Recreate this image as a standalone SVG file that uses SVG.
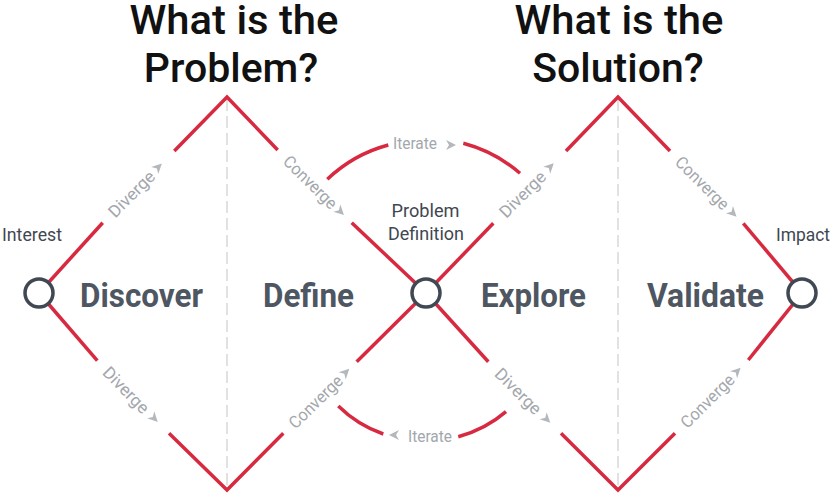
<svg xmlns="http://www.w3.org/2000/svg" xmlns:xlink="http://www.w3.org/1999/xlink" width="833" height="500" viewBox="0 0 833 500">
  <style>
    .edge { fill: none; stroke: #d72a41; stroke-width: 3.5; stroke-linejoin: miter; stroke-linecap: butt; }
    .axis { stroke: #c4c4c4; stroke-width: 1; stroke-dasharray: 12 5; }
    .node { fill: #ffffff; stroke: #3f4853; stroke-width: 3.5; }
    .title { font-family: Roboto, "Liberation Sans", sans-serif; font-weight: 500; font-size: 41px; fill: #111111; text-anchor: middle; }
    .stage { font-family: Roboto, "Liberation Sans", sans-serif; font-weight: 700; font-size: 33px; fill: #4d5661; }
    .lbl { font-family: Roboto, "Liberation Sans", sans-serif; font-size: 19px; fill: #3f4751; }
    .tag { font-family: Roboto, "Liberation Sans", sans-serif; font-size: 17px; fill: #a3a7ac; }
    .ah { fill: #b4b8bc; }
  </style>
  <defs>
    <path id="ah" d="M0,0 L-10,-5 L-7,0 L-10,5 Z"/>
  </defs>

  <rect width="833" height="500" fill="#ffffff"/>

  <g id="titles">
    <text class="title" x="234" y="34" textLength="209" lengthAdjust="spacingAndGlyphs">What is the</text>
    <text class="title" x="231" y="82">Problem?</text>
    <text class="title" x="619" y="34" textLength="209" lengthAdjust="spacingAndGlyphs">What is the</text>
    <text class="title" x="618" y="82">Solution?</text>
  </g>

  <g id="axes">
    <line class="axis" x1="227" y1="99" x2="227" y2="490"/>
    <line class="axis" x1="618" y1="99" x2="618" y2="490"/>
  </g>

  <g id="connectors">
    <!-- Diamond 1 -->
    <line class="edge" x1="39" y1="293" x2="102.7" y2="222.7"/>
    <polyline class="edge" points="174.3,151 227,97 277.7,150"/>
    <line class="edge" x1="351.7" y1="222.7" x2="426" y2="293"/>
    <line class="edge" x1="39" y1="293" x2="97.3" y2="360.7"/>
    <polyline class="edge" points="169,433.3 227,490 283.3,433.3"/>
    <line class="edge" x1="356.7" y1="361.7" x2="426" y2="293"/>
    <!-- Diamond 2 -->
    <line class="edge" x1="426" y1="293" x2="493.3" y2="223.3"/>
    <polyline class="edge" points="566,151 618,97 670,151"/>
    <line class="edge" x1="743.3" y1="223.3" x2="802" y2="293"/>
    <line class="edge" x1="426" y1="293" x2="488.3" y2="361.7"/>
    <polyline class="edge" points="561,433.3 618,490 675,433.3"/>
    <line class="edge" x1="748.3" y1="360" x2="802" y2="293"/>
    <!-- Iterate arcs -->
    <path class="edge" d="M327.3,179.3 A141,141 0 0,1 388.3,145"/>
    <path class="edge" d="M463.3,143.3 A141,141 0 0,1 520,173.3"/>
    <path class="edge" d="M338.3,406 A120,120 0 0,0 383.3,434"/>
    <path class="edge" d="M458.3,436.7 A120,120 0 0,0 506,411.7"/>

    <!-- Edge labels -->
    <g transform="translate(138.5,186.85) rotate(-45)">
      <text class="tag" x="19" y="6" text-anchor="end" textLength="58" lengthAdjust="spacingAndGlyphs">Diverge</text>
      <use href="#ah" class="ah" transform="translate(33,0)"/>
    </g>
    <g transform="translate(314.7,186.35) rotate(44.5)">
      <text class="tag" x="28" y="6" text-anchor="end" textLength="68" lengthAdjust="spacingAndGlyphs">Converge</text>
      <use href="#ah" class="ah" transform="translate(41,0)"/>
    </g>
    <g transform="translate(133.15,397) rotate(45.4)">
      <text class="tag" x="19" y="6" text-anchor="end" textLength="58" lengthAdjust="spacingAndGlyphs">Diverge</text>
      <use href="#ah" class="ah" transform="translate(35,0)"/>
    </g>
    <g transform="translate(320,397.5) rotate(-44.3)">
      <text class="tag" x="28" y="6" text-anchor="end" textLength="68" lengthAdjust="spacingAndGlyphs">Converge</text>
      <use href="#ah" class="ah" transform="translate(41,0)"/>
    </g>
    <g transform="translate(529.65,187.15) rotate(-44.8)">
      <text class="tag" x="19" y="6" text-anchor="end" textLength="58" lengthAdjust="spacingAndGlyphs">Diverge</text>
      <use href="#ah" class="ah" transform="translate(34,0)"/>
    </g>
    <g transform="translate(706.65,187.15) rotate(44.6)">
      <text class="tag" x="28" y="6" text-anchor="end" textLength="68" lengthAdjust="spacingAndGlyphs">Converge</text>
      <use href="#ah" class="ah" transform="translate(42,0)"/>
    </g>
    <g transform="translate(524.65,397.5) rotate(44.6)">
      <text class="tag" x="20" y="6" text-anchor="end" textLength="58" lengthAdjust="spacingAndGlyphs">Diverge</text>
      <use href="#ah" class="ah" transform="translate(36,0)"/>
    </g>
    <g transform="translate(711.65,396.65) rotate(-45)">
      <text class="tag" x="28" y="6" text-anchor="end" textLength="68" lengthAdjust="spacingAndGlyphs">Converge</text>
      <use href="#ah" class="ah" transform="translate(41,0)"/>
    </g>
    <!-- Iterate labels -->
    <text class="tag" x="393" y="149" textLength="44" lengthAdjust="spacingAndGlyphs">Iterate</text>
    <path class="ah" d="M456,145 L446,140 L449,145 L446,150 Z"/>
    <text class="tag" x="408" y="442" textLength="44" lengthAdjust="spacingAndGlyphs">Iterate</text>
    <path class="ah" d="M389,435 L399,430 L396,435 L399,440 Z"/>
  </g>

  <g id="node-interest">
    <circle class="node" cx="39" cy="293" r="14"/>
    <text class="lbl" x="2" y="241" textLength="60" lengthAdjust="spacingAndGlyphs">Interest</text>
  </g>
  <g id="node-problem-definition">
    <circle class="node" cx="426" cy="293" r="14"/>
    <text class="lbl" x="425.5" y="217" text-anchor="middle" textLength="68" lengthAdjust="spacingAndGlyphs">Problem</text>
    <text class="lbl" x="426" y="240" text-anchor="middle" textLength="76" lengthAdjust="spacingAndGlyphs">Definition</text>
  </g>
  <g id="node-impact">
    <circle class="node" cx="802" cy="293" r="14"/>
    <text class="lbl" x="776" y="241" textLength="54" lengthAdjust="spacingAndGlyphs">Impact</text>
  </g>

  <g id="stage-discover">
    <text class="stage" x="80" y="307" textLength="123" lengthAdjust="spacingAndGlyphs">Discover</text>
  </g>
  <g id="stage-define">
    <text class="stage" x="263" y="307" textLength="91" lengthAdjust="spacingAndGlyphs">Define</text>
  </g>
  <g id="stage-explore">
    <text class="stage" x="481" y="307" textLength="105" lengthAdjust="spacingAndGlyphs">Explore</text>
  </g>
  <g id="stage-validate">
    <text class="stage" x="647" y="307" textLength="117" lengthAdjust="spacingAndGlyphs">Validate</text>
  </g>
</svg>
